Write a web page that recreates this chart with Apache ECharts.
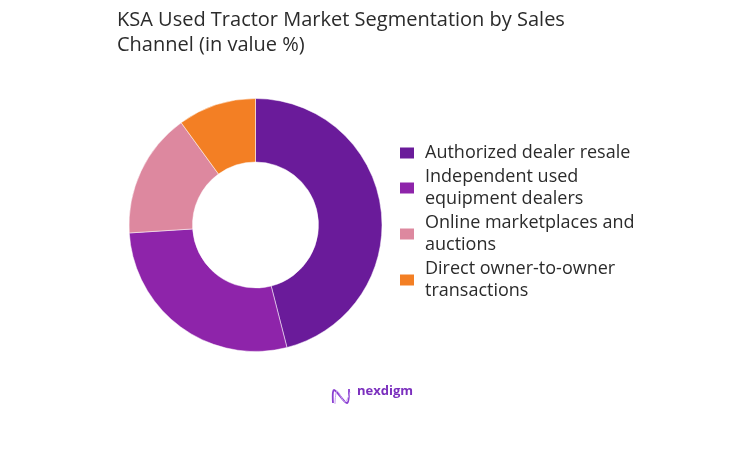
<!DOCTYPE html>
<html>
<head>
<meta charset="utf-8">
<script src="https://cdn.jsdelivr.net/npm/echarts@6/dist/echarts.min.js"></script>
<style>html,body{margin:0;padding:0;background:#fff}#c{width:743px;height:449px}</style>
</head>
<body>
<div id="c"></div>
<script>
const categories = ['Authorized dealer resale', 'Independent used equipment dealers', 'Online marketplaces and auctions', 'Direct owner-to-owner transactions'];
const legendLabels = ['Authorized dealer resale', 'Independent used\nequipment dealers', 'Online marketplaces and\nauctions', 'Direct owner-to-owner\ntransactions'];
const values = [46, 28, 16, 10];
const colors = ['#6A1B9A', '#8E24AA', '#DD889F', '#F37F24'];
const titleText = 'KSA Used Tractor Market Segmentation by Sales\nChannel (in value %)';

const chart = echarts.init(document.getElementById('c'));
chart.setOption({
  animation: false,
  title: {
    text: titleText,
    left: 112, top: 3,
    textStyle: { fontFamily: 'Open Sans', fontSize: 20, fontWeight: 'normal', color: '#2b2b2b', lineHeight: 25 }
  },
  legend: {
    orient: 'vertical', left: 398, top: 142, padding: 0,
    icon: 'rect', itemWidth: 16, itemHeight: 13, itemGap: 2,
    formatter: function (n) { return legendLabels[categories.indexOf(n)]; },
    textStyle: { fontFamily: 'Open Sans', fontSize: 18, color: '#2b2b2b', lineHeight: 22, padding: [0, 0, 0, 5] },
    data: categories
  },
  series: [{
    type: 'pie',
    center: [255.5, 225],
    radius: [63, 126.5],
    startAngle: 90,
    clockwise: true,
    label: { show: false },
    labelLine: { show: false },
    itemStyle: { borderColor: '#fff', borderWidth: 0.5 },
    data: categories.map((c, i) => ({ name: c, value: values[i], itemStyle: { color: colors[i] } }))
  }],
  graphic: [
    {
      type: 'polyline',
      shape: { points: [[333, 403], [334, 390], [347, 403], [349, 389]], smooth: 0.35 },
      style: { stroke: '#8A3FD1', lineWidth: 1.8, fill: null }
    },
    {
      type: 'polyline',
      shape: { points: [[335, 404], [337, 391], [345, 402], [350, 392]], smooth: 0.35 },
      style: { stroke: '#C79BEF', lineWidth: 1, fill: null }
    },
    {
      type: 'text', left: 357, top: 385,
      style: { text: 'nexdigm', fontFamily: 'Open Sans', fontSize: 13, fontWeight: 'bold', fill: '#7B2FBE' }
    }
  ]
});
</script>
</body>
</html>
